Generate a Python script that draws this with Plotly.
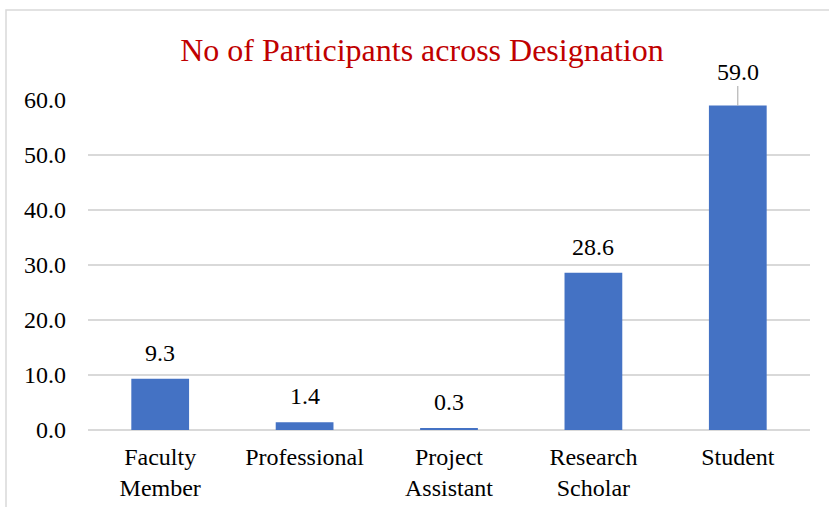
import plotly.graph_objects as go

categories = ["Faculty<br>Member", "Professional", "Project<br>Assistant", "Research<br>Scholar", "Student"]
values = [9.3, 1.4, 0.3, 28.6, 59.0]
y_ticks = [0, 10, 20, 30, 40, 50, 60]
title_text = "No of Participants across Designation"

FONT = "Liberation Serif"

fig = go.Figure()
fig.add_trace(go.Bar(
    x=categories, y=values,
    marker=dict(color="#4472C4", line=dict(width=0)),
    width=0.4,
))

annotations = []
for c, v in zip(categories, values):
    if v == max(values):
        annotations.append(dict(
            x=c, y=v, xref="x", yref="y", text=f"{v:.1f}",
            showarrow=True, arrowhead=0, arrowwidth=1, arrowcolor="#A6A6A6",
            ax=0, ay=-34, standoff=0,
            font=dict(family=FONT, size=24, color="#000000"),
        ))
    else:
        annotations.append(dict(
            x=c, y=v, xref="x", yref="y", text=f"{v:.1f}",
            showarrow=False, yanchor="middle", yshift=26,
            font=dict(family=FONT, size=24, color="#000000"),
        ))

L, R, T, B = 88, 19, 100, 77
W, H = 829, 507
pw, ph = W - L - R, H - T - B

fig.update_layout(
    width=W, height=H,
    margin=dict(l=L, r=R, t=T, b=B),
    paper_bgcolor="white", plot_bgcolor="white",
    showlegend=False,
    title=dict(text=title_text, x=0.509, xanchor="center", y=1 - 50 / H, yanchor="middle",
               font=dict(family=FONT, size=32, color="#C00000")),
    font=dict(family=FONT, size=24, color="#000000"),
    xaxis=dict(showgrid=False, showline=False, ticks="", ticklabelstandoff=10, automargin=False,
               tickfont=dict(family=FONT, size=24, color="#000000")),
    yaxis=dict(range=[0, 60], tickvals=y_ticks, tickformat=".1f", automargin=False,
               showgrid=True, gridcolor="#D9D9D9", gridwidth=1.5,
               zeroline=True, zerolinecolor="#D9D9D9", zerolinewidth=1.5,
               showline=False, ticks="", ticklen=0, ticklabelstandoff=21,
               tickfont=dict(family=FONT, size=24, color="#000000")),
    annotations=annotations,
    shapes=[dict(type="rect", xref="paper", yref="paper",
                 x0=(6 - L) / pw, x1=(840 - L) / pw,
                 y0=(H - B - 520) / ph, y1=(H - B - 10) / ph,
                 line=dict(color="#D9D9D9", width=1.5), layer="below")],
)

fig.write_html("out.html", config={"displayModeBar": False},
               post_script="document.body.style.margin='0';document.body.style.overflow='hidden';")
